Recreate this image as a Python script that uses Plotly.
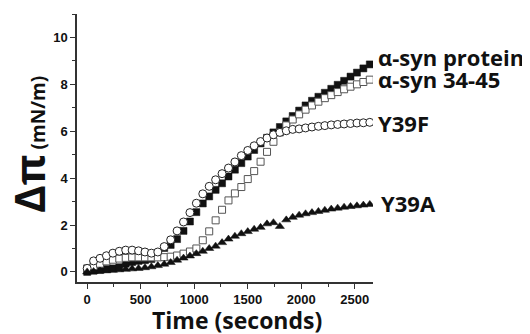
import plotly.graph_objects as go

time_s = [i * 60 for i in range(45)]

syn_protein = [0.0, 0.05, 0.08, 0.12, 0.15, 0.2, 0.35, 0.42, 0.47, 0.5, 0.55, 0.72, 1.02, 1.15, 1.4,
               1.75, 2.15, 2.55, 2.92, 3.22, 3.5, 3.78, 4.07, 4.36, 4.64, 4.92, 5.2, 5.48, 5.72, 5.95,
               6.18, 6.42, 6.65, 6.88, 7.1, 7.3, 7.47, 7.64, 7.81, 7.98, 8.15, 8.33, 8.5, 8.68, 8.85]

syn_34_45 = [0.15, 0.25, 0.35, 0.45, 0.52, 0.57, 0.6, 0.62, 0.62, 0.62, 0.62, 0.62, 0.63, 0.65, 0.7,
             0.78, 0.87, 1.0, 1.35, 1.73, 2.2, 2.65, 3.05, 3.35, 3.62, 3.96, 4.3, 4.7, 5.12, 5.55,
             5.95, 6.25, 6.5, 6.72, 6.92, 7.1, 7.26, 7.41, 7.54, 7.67, 7.79, 7.9, 8.0, 8.1, 8.2]

y39f = [0.15, 0.47, 0.58, 0.69, 0.8, 0.88, 0.93, 0.93, 0.9, 0.85, 0.8, 0.85, 1.08, 1.37, 1.75,
        2.13, 2.53, 2.93, 3.33, 3.65, 3.93, 4.19, 4.43, 4.69, 4.96, 5.18, 5.38, 5.56, 5.71, 5.85,
        5.95, 6.02, 6.08, 6.1, 6.14, 6.18, 6.21, 6.24, 6.27, 6.29, 6.31, 6.33, 6.35, 6.36, 6.38]

y39a = [0.0, 0.02, 0.04, 0.05, 0.07, 0.09, 0.11, 0.13, 0.15, 0.18, 0.22, 0.27, 0.33, 0.4, 0.5,
        0.59, 0.68, 0.78, 0.88, 1.0, 1.1, 1.25, 1.4, 1.52, 1.63, 1.72, 1.82, 1.9, 2.05, 2.1,
        1.94, 2.22, 2.33, 2.42, 2.48, 2.53, 2.58, 2.63, 2.68, 2.72, 2.76, 2.79, 2.82, 2.85, 2.88]

series_labels = ["α-syn protein", "α-syn 34-45", "Y39F", "Y39A"]
x_ticks = [0, 500, 1000, 1500, 2000, 2500]
y_ticks = [0, 2, 4, 6, 8, 10]

# page has an 8px body margin; work in window pixels and convert
OFF = 8
FW, FH = 530 - OFF, 334 - OFF
L, R, T, B = 77, 373, 14, 282
W, H = R - L, B - T


def px(xp):
    return (xp - L) / W


def py(yp):
    return (B - yp) / H


fig = go.Figure()
fig.add_trace(go.Scatter(x=time_s, y=syn_protein, mode="markers", name=series_labels[0],
                         marker=dict(symbol="square", size=7, color="#111111",
                                     line=dict(color="#111111", width=0.5))))
fig.add_trace(go.Scatter(x=time_s, y=syn_34_45, mode="markers", name=series_labels[1],
                         marker=dict(symbol="square", size=7, color="white",
                                     line=dict(color="#555555", width=1))))
fig.add_trace(go.Scatter(x=time_s, y=y39f, mode="markers", name=series_labels[2],
                         marker=dict(symbol="circle", size=8, color="white",
                                     line=dict(color="#222222", width=1))))
fig.add_trace(go.Scatter(x=time_s, y=y39a, mode="markers", name=series_labels[3],
                         marker=dict(symbol="triangle-up", size=8, color="#111111",
                                     line=dict(color="#111111", width=0.5))))

label_font = dict(family="Open Sans", size=22, color="#111111", weight="bold")
label_pos = [(376, 57), (376, 79), (376, 123), (379, 203)]
for txt, (xp, yp) in zip(series_labels, label_pos):
    fig.add_annotation(text=txt, xref="paper", yref="paper",
                       x=px(xp), y=py(yp), xanchor="left", yanchor="middle",
                       showarrow=False, font=label_font)

fig.add_annotation(text="<span style='font-size:42px'>Δπ</span> (mN/m)",
                   xref="paper", yref="paper", x=px(28), y=py(145),
                   xanchor="center", yanchor="middle", textangle=-90, showarrow=False,
                   font=dict(family="Open Sans", size=19, color="#111111", weight="bold"))

fig.add_annotation(text="Time (seconds)", xref="paper", yref="paper",
                   x=px(237), y=py(320), xanchor="center", yanchor="middle",
                   showarrow=False,
                   font=dict(family="Open Sans", size=23, color="#111111", weight="bold"))

tickfont = dict(family="Liberation Sans", size=13, color="#111111", weight="bold")
fig.update_layout(
    width=FW, height=FH,
    margin=dict(l=L - OFF, r=530 - R, t=T - OFF, b=334 - B),
    paper_bgcolor="white", plot_bgcolor="white",
    showlegend=False,
    xaxis=dict(range=[-95, 2670], tickvals=x_ticks, ticks="outside", ticklen=5, tickwidth=1,
               tickcolor="#333333", showline=True, linecolor="#333333", linewidth=1.5,
               showgrid=False, zeroline=False, automargin=False, tickfont=tickfont,
               minor=dict(dtick=250, ticks="outside", ticklen=3, tickcolor="#333333")),
    yaxis=dict(range=[-0.43, 11.0], tickvals=y_ticks, ticks="outside", ticklen=5, tickwidth=1,
               tickcolor="#333333", showline=True, linecolor="#333333", linewidth=1.5,
               showgrid=False, zeroline=False, automargin=False, tickfont=tickfont,
               minor=dict(dtick=1, ticks="outside", ticklen=3, tickcolor="#333333")),
)

fig.write_html("out.html")
